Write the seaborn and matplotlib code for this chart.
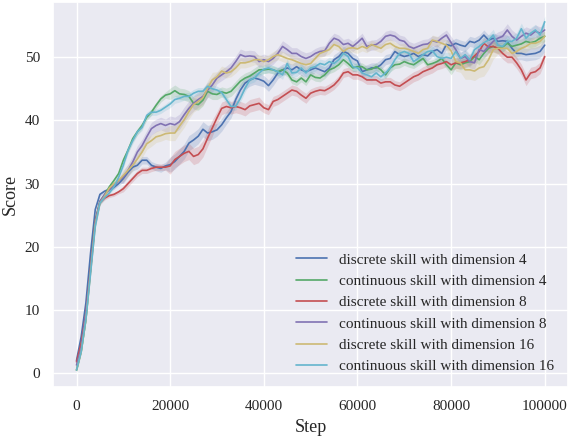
import numpy as np
import pandas as pd
import seaborn as sns
import matplotlib
matplotlib.use('Agg')
import matplotlib.pyplot as plt

# training steps, one reading every 1000 steps
steps = np.arange(0, 100001, 1000)

discrete_4 = [2.0, 5.8, 11.1, 19.0, 25.9, 28.3, 28.8, 29.1, 29.4, 30.0,
              30.8, 31.8, 32.6, 32.9, 33.7, 33.7, 32.9, 32.6, 32.4, 32.8,
              33.0, 33.5, 34.3, 35.1, 36.4, 36.9, 37.5, 38.6, 38.0, 38.2,
              38.5, 39.3, 40.4, 41.4, 43.3, 44.8, 45.9, 46.4, 46.7, 46.5,
              46.2, 45.5, 46.4, 47.5, 48.0, 48.3, 48.0, 48.5, 48.0, 47.7,
              48.0, 48.3, 48.0, 47.7, 48.3, 49.6, 50.1, 50.9, 50.6, 49.8,
              49.4, 47.7, 48.0, 48.3, 48.3, 48.8, 49.6, 49.8, 50.9, 50.4,
              50.1, 50.3, 50.6, 50.1, 50.4, 50.2, 50.9, 51.2, 50.6, 52.0,
              51.8, 52.2, 51.9, 51.7, 52.5, 52.3, 52.7, 53.5, 52.7, 53.0,
              52.5, 52.6, 52.5, 51.4, 50.6, 50.6, 50.4, 50.5, 50.6, 50.9,
              51.9]
continuous_4 = [0.5, 3.5, 8.5, 16.5, 24.2, 27.2, 28.2, 29.5, 30.5, 31.6,
                33.7, 35.3, 37.1, 38.2, 39.2, 40.5, 41.3, 42.4, 43.4, 44.0,
                44.2, 44.7, 44.2, 44.1, 43.8, 42.7, 42.5, 43.2, 44.6, 44.2,
                44.1, 44.5, 44.3, 44.6, 45.4, 46.2, 46.7, 47.0, 47.5, 48.0,
                48.0, 48.1, 48.0, 47.7, 48.0, 47.5, 46.4, 46.1, 46.7, 46.1,
                47.2, 46.8, 46.7, 47.2, 48.0, 48.3, 48.8, 49.6, 49.0, 48.3,
                48.5, 48.5, 48.0, 48.1, 48.5, 48.0, 47.2, 48.3, 48.8, 48.9,
                49.3, 49.0, 48.8, 49.3, 49.8, 48.8, 49.0, 49.3, 49.8, 48.8,
                48.0, 49.1, 48.8, 49.1, 49.3, 50.1, 49.6, 50.6, 51.4, 51.7,
                51.4, 51.6, 52.2, 51.7, 51.9, 52.1, 52.5, 52.3, 52.5, 53.0,
                53.3]
discrete_8 = [1.8, 4.8, 9.5, 16.5, 24.0, 27.0, 27.7, 28.1, 28.3, 28.7,
              29.2, 30.0, 30.8, 31.6, 32.1, 32.1, 32.4, 32.6, 32.6, 32.6,
              32.8, 33.8, 34.3, 34.8, 35.1, 34.3, 34.6, 35.5, 37.2, 38.8,
              40.4, 41.9, 42.2, 42.0, 42.2, 42.0, 41.7, 42.3, 42.5, 42.7,
              42.0, 41.7, 43.0, 43.3, 43.8, 44.3, 44.8, 44.6, 44.0, 43.5,
              44.3, 44.6, 44.8, 44.7, 45.1, 45.6, 46.4, 47.5, 47.7, 47.2,
              47.2, 46.9, 46.4, 46.4, 46.4, 45.9, 46.1, 46.1, 45.6, 45.4,
              45.9, 46.4, 46.9, 47.2, 47.7, 48.0, 48.3, 48.8, 49.0, 49.3,
              48.8, 49.1, 49.1, 49.3, 49.6, 50.2, 50.9, 52.2, 51.6, 51.7,
              51.4, 50.6, 50.0, 50.0, 49.1, 48.0, 46.4, 47.5, 47.7, 48.3,
              50.1]
continuous_8 = [1.3, 4.0, 9.5, 16.5, 24.0, 27.2, 28.3, 29.0, 29.7, 30.5,
                31.0, 32.1, 33.4, 35.0, 36.0, 37.4, 38.7, 39.2, 39.5, 39.2,
                39.5, 39.3, 39.8, 40.9, 41.9, 42.7, 43.3, 43.8, 44.8, 45.6,
                46.7, 47.2, 47.7, 48.3, 49.3, 50.4, 50.1, 50.2, 50.1, 49.3,
                49.6, 49.3, 49.8, 50.6, 51.7, 51.2, 50.6, 50.6, 50.1, 49.8,
                50.1, 50.6, 50.9, 51.0, 52.2, 53.0, 52.7, 52.0, 52.2, 51.7,
                52.3, 53.0, 51.7, 51.9, 52.0, 52.5, 53.3, 53.5, 53.3, 52.7,
                52.5, 51.7, 51.4, 51.7, 52.0, 52.1, 52.6, 52.4, 53.0, 53.5,
                52.3, 51.2, 49.8, 50.1, 49.3, 49.1, 51.2, 50.9, 51.7, 52.5,
                53.0, 53.3, 54.3, 53.3, 52.7, 53.3, 53.8, 53.5, 54.1, 53.8,
                54.3]
discrete_16 = [0.5, 3.4, 8.5, 16.0, 23.5, 26.9, 28.0, 29.3, 30.0, 30.5,
               31.3, 32.1, 32.9, 33.9, 35.0, 36.3, 36.8, 37.4, 37.6, 37.9,
               38.0, 38.0, 39.1, 40.1, 41.4, 42.5, 43.0, 43.6, 45.1, 46.4,
               46.9, 47.8, 47.5, 47.7, 48.3, 49.1, 49.1, 49.3, 49.6, 49.6,
               49.3, 49.6, 50.1, 50.4, 50.1, 49.8, 49.6, 49.3, 49.0, 48.8,
               49.0, 49.8, 50.6, 50.9, 51.2, 52.0, 51.7, 50.9, 51.4, 51.5,
               51.3, 51.7, 51.4, 52.0, 51.7, 51.4, 52.0, 52.2, 51.7, 51.4,
               51.4, 51.2, 50.9, 50.6, 51.2, 51.4, 52.7, 52.5, 52.2, 51.9,
               51.0, 49.3, 49.1, 48.0, 48.0, 47.8, 48.3, 48.5, 49.6, 51.2,
               51.4, 51.4, 51.4, 50.6, 50.9, 51.4, 51.7, 52.2, 52.2, 52.5,
               53.3]
continuous_16 = [0.5, 3.4, 8.5, 15.8, 23.2, 26.9, 27.8, 28.5, 29.5, 31.0,
                 32.9, 35.3, 36.8, 38.2, 38.9, 40.8, 41.3, 41.3, 41.6, 42.1,
                 42.6, 43.3, 43.5, 43.8, 43.8, 44.3, 44.6, 44.6, 45.4, 45.0,
                 44.8, 44.4, 43.3, 42.2, 42.2, 43.5, 45.1, 46.4, 46.7, 47.5,
                 48.1, 48.3, 48.0, 47.7, 47.2, 49.0, 47.5, 47.6, 48.3, 47.5,
                 48.3, 48.5, 49.0, 48.8, 49.3, 49.0, 49.6, 50.6, 50.1, 48.5,
                 48.3, 47.5, 47.2, 46.9, 47.5, 46.9, 47.5, 48.3, 49.6, 50.6,
                 50.9, 50.6, 49.3, 49.8, 50.4, 50.9, 51.0, 50.1, 49.8, 50.0,
                 49.8, 50.9, 49.8, 50.4, 49.6, 51.2, 51.7, 52.3, 52.7, 53.5,
                 51.9, 51.7, 52.5, 52.5, 53.0, 54.5, 53.0, 53.8, 54.3, 53.5,
                 55.6]

# half width of the shaded band, one value per 10000 steps
band_d4 = [0.3, 0.6, 1.2, 1.0, 0.9, 0.8, 0.8, 0.8, 0.8, 1.0]
band_c4 = [0.3, 0.5, 0.9, 0.8, 0.6, 0.6, 0.6, 0.6, 0.8, 0.8]
band_d8 = [0.3, 0.5, 1.3, 1.0, 0.8, 0.7, 0.7, 0.8, 0.9, 0.9]
band_c8 = [0.3, 1.0, 1.2, 0.9, 0.9, 0.8, 0.8, 0.8, 1.0, 1.0]
band_d16 = [0.3, 0.9, 1.2, 0.8, 0.8, 0.7, 0.7, 0.8, 1.5, 0.9]
band_c16 = [0.3, 0.5, 0.6, 0.6, 0.7, 0.7, 0.7, 0.8, 0.9, 0.9]

labels = ['discrete skill with dimension 4', 'continuous skill with dimension 4',
          'discrete skill with dimension 8', 'continuous skill with dimension 8',
          'discrete skill with dimension 16', 'continuous skill with dimension 16']
series = [discrete_4, continuous_4, discrete_8, continuous_8, discrete_16, continuous_16]
bands = [band_d4, band_c4, band_d8, band_c8, band_d16, band_c16]

sns.set_theme(style='darkgrid', font='Liberation Serif')
colors = sns.color_palette('deep6')

fig, ax = plt.subplots(figsize=(5.71, 4.36), dpi=100)
fig.subplots_adjust(left=0.093, right=0.995, top=0.995, bottom=0.112)

for vals, band, lab, c in zip(series, bands, labels, colors):
    vals = np.array(vals)
    half = np.append(np.repeat(band, 10), band[-1])
    sns.lineplot(x=steps, y=vals, color=c, label=lab, linewidth=1.2, ax=ax)
    ax.fill_between(steps, vals - half, vals + half, color=c, alpha=0.2, linewidth=0)

ax.set_xlim(-5000, 105000)
ax.set_ylim(-2.2, 58.7)
ax.set_xticks([0, 20000, 40000, 60000, 80000, 100000])
ax.set_yticks([0, 10, 20, 30, 40, 50])
ax.tick_params(labelsize=11)
ax.set_xlabel('Step', fontsize=13)
ax.set_ylabel('Score', fontsize=13)
ax.legend(loc='lower right', frameon=False, fontsize=11)

plt.savefig('out.png', dpi=100)
